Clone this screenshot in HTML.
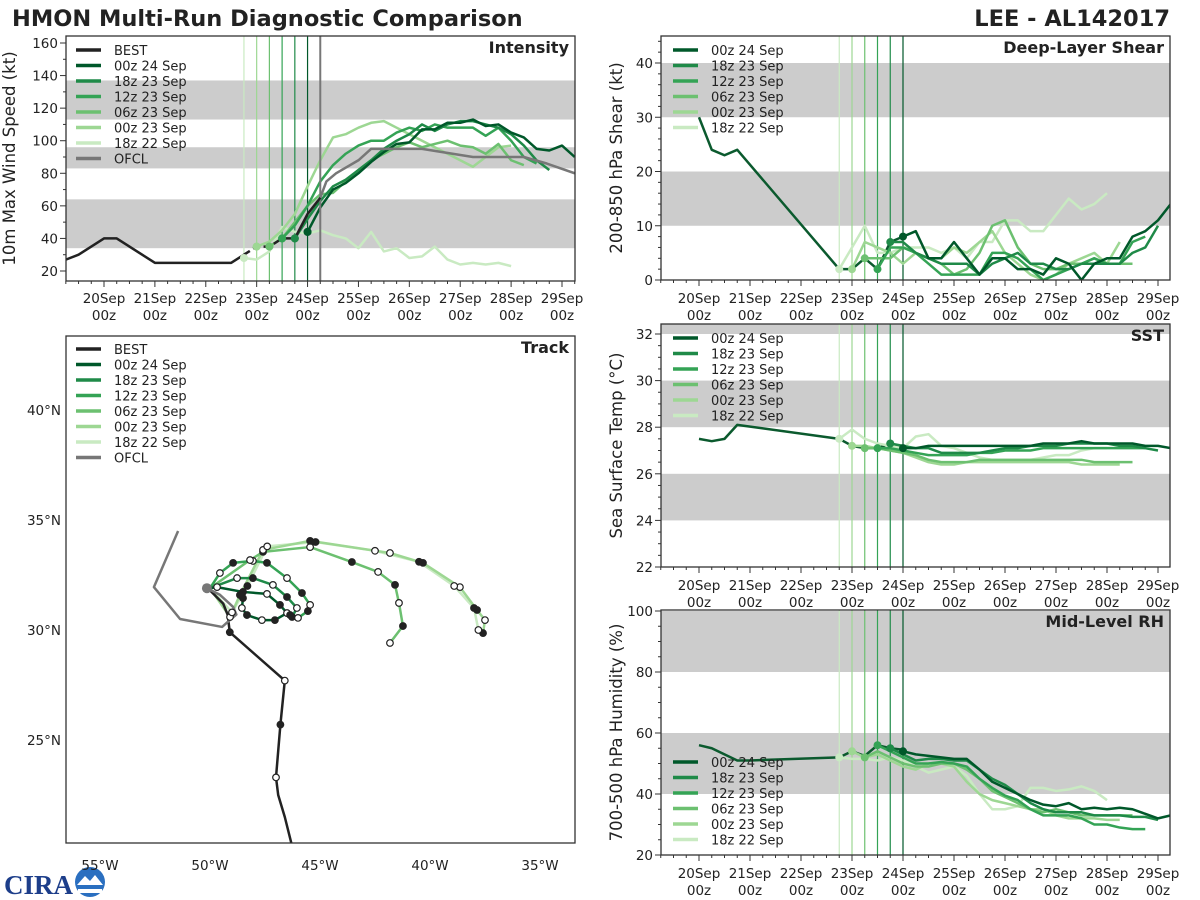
<!DOCTYPE html>
<html><head><meta charset="utf-8">
<style>
html,body{margin:0;padding:0;background:#fff;}
svg{display:block;font-family:"DejaVu Sans","Liberation Sans",sans-serif;}
</style></head>
<body>
<svg id="c" width="1200" height="900" xmlns="http://www.w3.org/2000/svg">
<text x="12" y="26" font-size="22.5" font-weight="bold" fill="#222">HMON Multi-Run Diagnostic Comparison</text>
<text x="1170" y="26" font-size="22.5" font-weight="bold" fill="#222" text-anchor="end">LEE - AL142017</text>
<g>
<text x="4" y="894" font-size="27" font-weight="bold" fill="#1d3e8a" font-family="Liberation Serif, serif">CIRA</text>
<circle cx="90" cy="882" r="15" fill="#2a6fc0"/>
<path d="M77 885 L85 876 L90 881 L95 875 L103 885 Z" fill="#fff"/>
<rect x="78" y="889" width="24" height="4" fill="#fff"/>
</g>
</svg>
<script>
const runNames = ['00z 24 Sep','18z 23 Sep','12z 23 Sep','06z 23 Sep','00z 23 Sep','18z 22 Sep'];
const runColors = ['#00582a','#1f8a48','#34a355','#6cc070','#9dd793','#c9eac2'];
const runStarts = [4, 3.75, 3.5, 3.25, 3, 2.75];
const stepDays = 0.25;

// Intensity (kt)
const intBestT = [-0.75,-0.5,0,0.25,0.75,1,2.5,2.75,3,3.25,3.5,3.75,4,4.25];
const intBestV = [27,30,40,40,30,25,25,30,35,35,40,40,55,65];
const intOfclT = [4.25,4.37,4.56,5,5.25,6.25,7.25,8.25,8.7,9.25];
const intOfclV = [65,75,80,88,95,95,90,90,86,80];
const int00z24 = [44,59,70,74,80,87,93,98,99,107,107,111,111,113,109,110,105,102,95,94,97,90];
const int18z23 = [40,52,63,72,76,82,88,95,100,104,110,106,110,112,112,110,108,104,97,88,82];
const int12z23 = [40,48,60,75,85,92,97,100,100,105,108,106,110,108,108,108,103,108,100,90,86];
const int06z23 = [35,40,50,60,67,68,75,82,88,92,96,99,96,98,100,97,96,92,98,88,85];
const int00z23 = [35,38,45,55,72,88,102,104,108,111,112,108,104,100,96,92,88,84,90,96,97];
const int18z22 = [28,27,32,47,44,43,45,42,40,34,44,32,34,28,29,35,27,24,25,24,25,23];
const intRuns = [int00z24,int18z23,int12z23,int06z23,int00z23,int18z22];

// Shear (kt)
const shrHistT = [0,0.25,0.5,0.75,2.75,3,3.25,3.5,3.75,4];
const shrHistV = [30,24,23,24,2,2,4,2,7,8];
const shr00z24 = [8,9,4,4,7,4,1,4,4,2,2,1,4,3,0,3,4,4,8,9,11,14];
const shr18z23 = [7,7,5,4,3,3,3,1,3,4,5,3,3,2,2,3,3,3,3,5,6,10];
const shr12z23 = [2,6,6,5,3,1,1,1,1,5,5,4,2,0,1,2,3,4,3,3,7,8];
const shr06z23 = [4,4,4,6,5,4,3,1,2,5,10,11,6,3,2,2,3,3,4,3,3,3];
const shr00z23 = [2,7,6,5,3,5,4,4,6,5,7,9,5,3,1,0,1,3,4,5,3,7];
const shr18z22 = [2,6,10,5,5,6,6,6,5,6,4,7,7,11,11,9,9,12,15,13,14,16];
const shrRuns = [shr00z24,shr18z23,shr12z23,shr06z23,shr00z23,shr18z22];

// SST (C)
const sstHistT = [0,0.25,0.5,0.75,2.75,3,3.25,3.5,3.75,4];
const sstHistV = [27.5,27.4,27.5,28.1,27.5,27.2,27.1,27.1,27.3,27.1];
const sst00z24 = [27.1,27.1,27.2,27.2,27.2,27.2,27.2,27.2,27.2,27.2,27.2,27.3,27.3,27.3,27.4,27.3,27.3,27.3,27.3,27.2,27.2,27.1];
const sst18z23 = [27.3,27.2,27.1,27.1,26.9,26.9,26.9,26.9,27.0,27.1,27.1,27.2,27.2,27.2,27.3,27.3,27.3,27.3,27.2,27.2,27.1,27.0];
const sst12z23 = [27.1,27.1,27.0,26.9,26.8,26.8,26.8,26.8,26.9,26.9,27.0,27.0,27.0,27.1,27.1,27.1,27.1,27.1,27.1,27.1,27.1,27.1];
const sst06z23 = [27.1,27.1,27.0,26.9,26.8,26.6,26.5,26.5,26.5,26.6,26.6,26.6,26.6,26.6,26.6,26.6,26.6,26.6,26.5,26.5,26.5,26.5];
const sst00z23 = [27.2,27.2,27.1,27.0,26.9,26.7,26.5,26.4,26.4,26.5,26.5,26.5,26.5,26.5,26.5,26.5,26.5,26.5,26.4,26.4,26.4,26.4];
const sst18z22 = [27.5,27.9,27.5,27.3,27.2,27.1,27.6,27.7,27.2,27.1,26.9,26.7,26.6,26.6,26.6,26.6,26.7,26.8,26.8,27.0,27.1,27.1];
const sstRuns = [sst00z24,sst18z23,sst12z23,sst06z23,sst00z23,sst18z22];

// Mid-level RH (%)
const rhHistT = [0,0.25,0.75,1,2.75,3,3.25,3.5,3.75,4];
const rhHistV = [56,55,51,51,52,54,52.5,56,55,54.5];
const rh00z24 = [54,53,52.5,52,51.5,51.5,48,44,42,40,38,36.5,36,37,35,35.5,35,35.5,35,33.5,32,33];
const rh18z23 = [55,53,51,51.5,51.5,51,51,48,45,43,40,37,35,34,34,34,33,33,33,32.5,32.5,31.5];
const rh12z23 = [56,54,52,50,50,50.5,50,49,45,42,39.5,38,35,33,33,33,32,30,30,29,28.5,28.5];
const rh06z23 = [52,54,52,50,49,49,50,50,48,45,41,39,37,35,34,35,34,33,33,33,33,33];
const rh00z23 = [54,52,53,51,49,48,50,50,49,44,40,38,37,36,35,35,33,32,32,32,31.5,31.5];
const rh18z22 = [52,51.5,51.5,51,52,51,49,47,48,49,46,40,35,35,36,42,42,41,41.5,42.5,41,38];
const rhRuns = [rh00z24,rh18z23,rh12z23,rh06z23,rh00z23,rh18z22];

// Track (lon degE, lat degN)
const trkBestLon = [-46.3,-46.6,-46.9,-47.0,-46.9,-46.8,-46.6,-49.1,-49.2,-49.4,-50.0];
const trkBestLat = [20.3,21.5,22.5,23.3,24.5,25.7,27.7,29.9,30.7,31.2,31.8];
const trkOfclLon = [-51.45,-52.55,-51.36,-49.45,-49.1,-48.8,-48.95,-49.55,-50.14];
const trkOfclLat = [34.5,31.95,30.5,30.14,30.45,30.7,31.05,31.6,31.9];
const trk00z24Lon = [-50.0,-49.68,-48.5,-47.41,-46.82,-46.5,-47.05,-47.64,-48.32,-48.55,-48.5];
const trk00z24Lat = [31.9,31.95,31.73,31.64,31.14,30.77,30.45,30.45,30.68,31.0,31.45];
const trk18z23Lon = [-50.0,-48.77,-48.05,-47.14,-46.5,-46.05,-46.27];
const trk18z23Lat = [31.9,32.36,32.36,32.05,31.5,31.0,30.59];
const trk12z23Lon = [-50.0,-49.55,-48.95,-48.05,-47.41,-46.5,-45.82,-45.45,-45.55,-46.0,-46.36];
const trk12z23Lat = [31.9,32.59,33.05,33.14,33.05,32.36,31.68,31.14,30.86,30.55,30.68];
const trk06z23Lon = [-50.0,-48.18,-47.59,-45.45,-43.55,-42.36,-41.59,-41.41,-41.23,-41.82];
const trk06z23Lat = [31.9,33.18,33.55,33.77,33.09,32.64,32.05,31.23,30.18,29.41];
const trk00z23Lon = [-50.0,-49.09,-48.64,-47.59,-45.45,-41.82,-40.32,-38.64,-37.86,-37.5,-37.59];
const trk00z23Lat = [31.9,30.59,31.59,33.64,34.05,33.5,33.05,31.95,30.91,30.45,29.86];
const trk18z22Lon = [-50.0,-49.0,-48.3,-47.4,-45.2,-42.5,-40.5,-38.9,-38.0,-37.8];
const trk18z22Lat = [31.9,30.8,32.0,33.8,34.0,33.6,33.1,32.0,31.0,30.0];
const trkRunsLon = [trk00z24Lon,trk18z23Lon,trk12z23Lon,trk06z23Lon,trk00z23Lon,trk18z22Lon];
const trkRunsLat = [trk00z24Lat,trk18z23Lat,trk12z23Lat,trk06z23Lat,trk00z23Lat,trk18z22Lat];

const dayLabels = ['20Sep','21Sep','22Sep','23Sep','24Sep','25Sep','26Sep','27Sep','28Sep','29Sep'];
const lonTicks = [-55,-50,-45,-40,-35];
const latTicks = [25,30,35,40];

const NS='http://www.w3.org/2000/svg';
const svg=document.getElementById('c');
function mk(tag,attrs,parent){const e=document.createElementNS(NS,tag);for(const k in attrs)e.setAttribute(k,attrs[k]);(parent||svg).appendChild(e);return e;}
function lin(d0,d1,r0,r1){return v=>r0+(v-d0)*(r1-r0)/(d1-d0);}
let clipN=0;

function panel(o){
  const g=mk('g',{});
  
  
  const id='cp'+(clipN++);
  const cp=mk('clipPath',{id:id},g);
  mk('rect',{x:o.x0,y:o.y0,width:o.x1-o.x0,height:o.y1-o.y0},cp);
  const inner=mk('g',{'clip-path':'url(#'+id+')'},g);
  (o.bands||[]).forEach(b=>{
    const r=mk('rect',{x:o.x0,y:o.Y(b[1]),width:o.x1-o.x0,height:o.Y(b[0])-o.Y(b[1]),fill:'#cccccc'},inner);
    
    
  });
  return {g,inner};
}
function frame(o,g){
  const r=mk('rect',{x:o.x0,y:o.y0,width:o.x1-o.x0,height:o.y1-o.y0,fill:'none',stroke:'#333','stroke-width':1.3},g);
  
  
}
function timeAxis(o,g,lblY){
  for(let t=-0.75;t<=9.26;t+=0.25){
    const x=o.X(t);if(x<o.x0-0.5||x>o.x1+0.5)continue;
    const major=Math.abs(t-Math.round(t))<1e-6;
    mk('line',{x1:x,x2:x,y1:o.y1,y2:o.y1+(major?6:3),stroke:'#333','stroke-width':1},g);
  }
  dayLabels.forEach((d,i)=>{
    const x=o.X(i);
    const t1=mk('text',{x:x,y:lblY,'font-size':13.5,'text-anchor':'middle',fill:'#222'},g);t1.textContent=d;
    
    
    const t2=mk('text',{x:x,y:lblY+17,'font-size':13.5,'text-anchor':'middle',fill:'#222'},g);t2.textContent='00z';
    
    
  });
}
function yAxis(o,g,maj,minStep,lo,hi,title,tx){
  for(let v=lo;v<=hi+1e-6;v+=minStep){
    const y=o.Y(v);if(y<o.y0-0.5||y>o.y1+0.5)continue;
    const isMaj=maj.some(m=>Math.abs(m-v)<1e-6);
    mk('line',{x1:o.x0,x2:o.x0-(isMaj?6:3),y1:y,y2:y,stroke:'#333','stroke-width':1},g);
  }
  maj.forEach(v=>{
    const t=mk('text',{x:o.x0-8,y:o.Y(v)+5,'font-size':13.5,'text-anchor':'end',fill:'#222'},g);t.textContent=v;
    
    
  });
  const cy=(o.y0+o.y1)/2;
  const tt=mk('text',{x:tx,y:cy,'font-size':16.5,'text-anchor':'middle',fill:'#222',transform:'rotate(-90 '+tx+' '+cy+')'},g);
  tt.textContent=title;
  
  
}
function line(g,xs,ys,color,w,name,dash){
  const p=mk('polyline',{points:xs.map((x,i)=>x+','+ys[i]).join(' '),fill:'none',stroke:color,'stroke-width':w,'stroke-linejoin':'round'},g);
  if(dash)p.setAttribute('stroke-dasharray',dash);
  
  
  return p;
}
function dot(g,x,y,r,fill,stroke,name){
  const c=mk('circle',{cx:x,cy:y,r:r,fill:fill,stroke:stroke||'none','stroke-width':1.2},g);
  
  
}
function legend(g,x,y,entries){
  entries.forEach((e,i)=>{
    const yy=y+i*15.5;
    const l=mk('line',{x1:x,x2:x+25,y1:yy,y2:yy,stroke:e[1],'stroke-width':3.5},g);
    
    
    const t=mk('text',{x:x+38,y:yy+5,'font-size':13,fill:'#222'},g);t.textContent=e[0];
    
    
  });
}
function ptitle(o,g,txt){
  const t=mk('text',{x:o.x1-6,y:o.y0+17,'font-size':16,'font-weight':'bold','text-anchor':'end',fill:'#222'},g);
  t.textContent=txt;
  
  
}
function runLines(o,inner,runs,histT,histV,histColor){
  runStarts.forEach((s,i)=>{
    const x=o.X(s);
    mk('line',{x1:x,x2:x,y1:o.y0,y2:o.y1,stroke:runColors[i],'stroke-width':1.2},inner);
  });
  if(histT) line(inner,histT.map(o.X),histV.map(o.Y),histColor,2.5,'history-line');
  for(let i=runs.length-1;i>=0;i--){
    const vals=runs[i];
    const xs=vals.map((v,k)=>o.X(runStarts[i]+k*stepDays));
    line(inner,xs,vals.map(o.Y),runColors[i],2.5,'run-line-'+runNames[i].replace(/ /g,'-').toLowerCase());
    dot(inner,xs[0],o.Y(vals[0]),4,runColors[i],null,'run-init-marker');
  }
}

// ---- Intensity ----
const P1={name:'intensity-panel',x0:66,x1:575,y0:36,y1:281,X:lin(0,9,104,562),Y:lin(20,160,271,43),bands:[[34,64],[83,96],[113,137]]};
{
  const {g,inner}=panel(P1);
  runLines(P1,inner,intRuns,null,null,null);
  const ox=P1.X(4.25);
  mk('line',{x1:ox,x2:ox,y1:P1.y0,y2:P1.y1,stroke:'#777','stroke-width':2},inner);
  line(inner,intOfclT.map(P1.X),intOfclV.map(P1.Y),'#777',2.5,'ofcl-line');
  line(inner,intBestT.slice(0,8).map(P1.X),intBestV.slice(0,8).map(P1.Y),'#222',2.5,'best-track-line');
  line(inner,intBestT.slice(7,11).map(P1.X),intBestV.slice(7,11).map(P1.Y),'#222',2.5,'best-track-line-dashed','7,4');
  line(inner,intBestT.slice(10).map(P1.X),intBestV.slice(10).map(P1.Y),'#222',2.5,'best-track-line');
  runStarts.forEach((s,i)=>dot(inner,P1.X(s),P1.Y(intRuns[i][0]),4,runColors[i],null,'run-init-marker'));
  frame(P1,g);timeAxis(P1,g,303);
  yAxis(P1,g,[20,40,60,80,100,120,140,160],10,10,160,'10m Max Wind Speed (kt)',15);
  legend(g,76,50,[['BEST','#222']].concat(runNames.map((n,i)=>[n,runColors[i]])).concat([['OFCL','#777']]));
  ptitle(P1,g,'Intensity');
}
// ---- Shear ----
const P2={name:'shear-panel',x0:661,x1:1170,y0:36,y1:280,X:lin(0,9,699,1158),Y:lin(0,40,280,63),bands:[[10,20],[30,40]]};
{
  const {g,inner}=panel(P2);
  runLines(P2,inner,shrRuns,shrHistT,shrHistV,'#0b5a2e');
  frame(P2,g);timeAxis(P2,g,303);
  yAxis(P2,g,[0,10,20,30,40],2,0,44,'200-850 hPa Shear (kt)',622);
  legend(g,673,50,runNames.map((n,i)=>[n,runColors[i]]));
  ptitle(P2,g,'Deep-Layer Shear');
}
// ---- SST ----
const P3={name:'sst-panel',x0:661,x1:1170,y0:324,y1:567,X:lin(0,9,699,1158),Y:lin(22,32,567,334),bands:[[24,26],[28,30],[32,34]]};
{
  const {g,inner}=panel(P3);
  runLines(P3,inner,sstRuns,sstHistT,sstHistV,'#0b5a2e');
  frame(P3,g);timeAxis(P3,g,590);
  yAxis(P3,g,[22,24,26,28,30,32],0.5,22,32.4,'Sea Surface Temp (°C)',622);
  legend(g,673,338,runNames.map((n,i)=>[n,runColors[i]]));
  ptitle(P3,g,'SST');
}
// ---- RH ----
const P4={name:'rh-panel',x0:661,x1:1170,y0:610,y1:855,X:lin(0,9,699,1158),Y:lin(20,100,855,611),bands:[[40,60],[80,100]]};
{
  const {g,inner}=panel(P4);
  runLines(P4,inner,rhRuns,rhHistT,rhHistV,'#0b5a2e');
  frame(P4,g);timeAxis(P4,g,878);
  yAxis(P4,g,[20,40,60,80,100],5,20,100,'700-500 hPa Humidity (%)',622);
  legend(g,673,762,runNames.map((n,i)=>[n,runColors[i]]));
  ptitle(P4,g,'Mid-Level RH');
}
// ---- Track ----
const P5={name:'track-panel',x0:66,x1:575,y0:336,y1:843,X:lin(-55,-35,100,540),Y:lin(30,40,630,410),bands:[]};
{
  const {g,inner}=panel(P5);
  for(let i=trkRunsLon.length-1;i>=0;i--){
    line(inner,trkRunsLon[i].map(P5.X),trkRunsLat[i].map(P5.Y),runColors[i],2.5,'track-'+runNames[i].replace(/ /g,'-').toLowerCase());
  }
  line(inner,trkBestLon.map(P5.X),trkBestLat.map(P5.Y),'#222',2.5,'best-track');
  line(inner,trkOfclLon.map(P5.X),trkOfclLat.map(P5.Y),'#777',2.5,'ofcl-track');
  for(let i=0;i<trkRunsLon.length;i++){
    trkRunsLon[i].forEach((lo,k)=>{ if(k===0)return;
      dot(inner,P5.X(lo),P5.Y(trkRunsLat[i][k]),3.3,k%2?'#fff':'#222','#222','track-position-marker');});
  }
  [3,5,6,7].forEach((k,j)=>dot(inner,P5.X(trkBestLon[k]),P5.Y(trkBestLat[k]),3.3,j%2?'#222':'#fff','#222','best-position-marker'));
  dot(inner,P5.X(trkOfclLon[8]),P5.Y(trkOfclLat[8]),5,'#777',null,'ofcl-start-marker');
  frame(P5,g);
  lonTicks.forEach(v=>{
    const t=mk('text',{x:P5.X(v),y:870,'font-size':13.5,'text-anchor':'middle',fill:'#222'},g);t.textContent=Math.abs(v)+'°W';
    
    
  });
  latTicks.forEach(v=>{
    const t=mk('text',{x:61,y:P5.Y(v)+5,'font-size':13.5,'text-anchor':'end',fill:'#222'},g);t.textContent=v+'°N';
    
    
  });
  legend(g,76,349,[['BEST','#222']].concat(runNames.map((n,i)=>[n,runColors[i]])).concat([['OFCL','#777']]));
  ptitle(P5,g,'Track');
}
</script>
</body></html>
